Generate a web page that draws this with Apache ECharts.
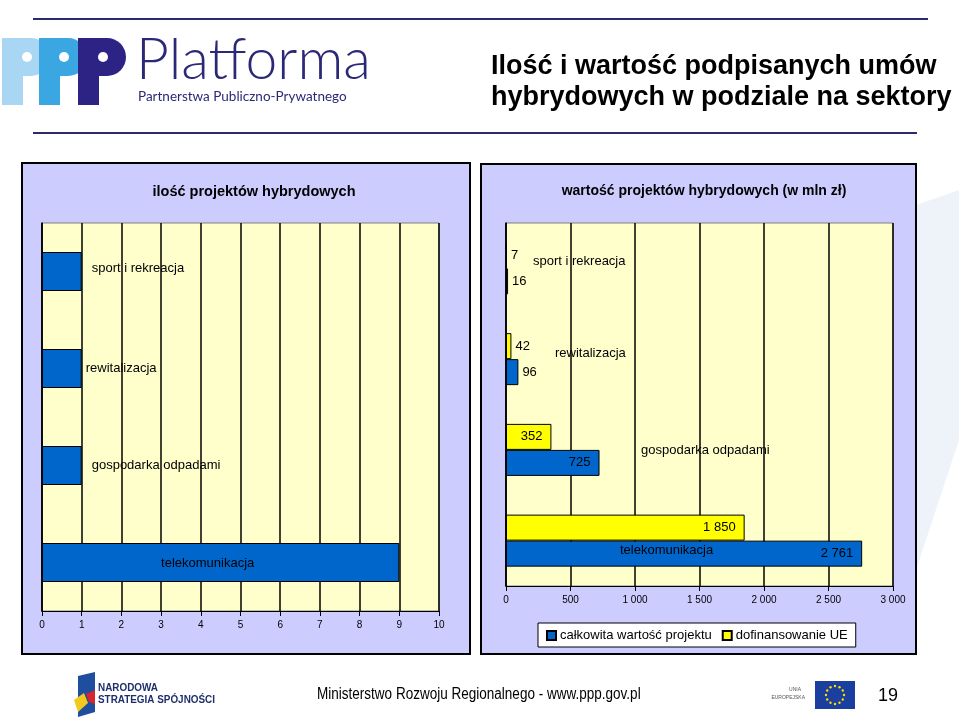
<!DOCTYPE html>
<html><head><meta charset="utf-8">
<script src="https://cdn.jsdelivr.net/npm/echarts@6/dist/echarts.min.js"></script>
<style>html,body{margin:0;padding:0;background:#fff}#c{width:959px;height:719px}</style>
</head><body><div id="c"></div>
<script>
// ---- data ----
const categories = ['sport i rekreacja', 'rewitalizacja', 'gospodarka odpadami', 'telekomunikacja'];
const projectCounts = [1, 1, 1, 9];
const totalValue = [16, 96, 725, 2761];
const euFunding = [7, 42, 352, 1850];
const countTicks = [0, 1, 2, 3, 4, 5, 6, 7, 8, 9, 10];
const valueTicks = [0, 500, 1000, 1500, 2000, 2500, 3000];
const seriesNames = ['całkowita wartość projektu', 'dofinansowanie UE'];
const panelTitles = ['ilość projektów hybrydowych', 'wartość projektów hybrydowych (w mln zł)'];
const mainTitle = ['Ilość i wartość podpisanych umów', 'hybrydowych w podziale na sektory'];

// ---- styling ----
const BLUE = '#0066CC', YELLOW = '#FFFF00', PLOT = '#FFFFCC', PANEL = '#CCCCFF';
const FONT = '"Liberation Sans", Arial, sans-serif';
const fmt = n => String(n).replace(/\B(?=(\d{3})+(?!\d))/g, ' ');

const leftLabelStyle = [
  { position: 'right', distance: 10, offset: [0, -3] },
  { position: 'right', distance: 4 },
  { position: 'right', distance: 10 },
  { position: 'inside', offset: [-13, 1] }
];
const rightNameOffset = [[27, -7], [49, -6], [135, 1], [114, 10]];
const valueLabelPos = v => v < 200 ? { position: 'right', distance: 4 } : { position: 'insideRight', distance: 9 };

const chart = echarts.init(document.getElementById('c'), null, { renderer: 'canvas' });

function euStars() {
  const els = [];
  for (let i = 0; i < 12; i++) {
    const a = i / 12 * Math.PI * 2;
    els.push({ type: 'circle', shape: { cx: 835 + Math.cos(a) * 9, cy: 695 + Math.sin(a) * 9, r: 1.2 }, style: { fill: '#FFDD00' } });
  }
  return els;
}

function pLogo(x, color) {
  return [
    { type: 'rect', shape: { x: x, y: 38, width: 21, height: 67 }, style: { fill: color } },
    { type: 'rect', shape: { x: x, y: 38, width: 48, height: 38, r: [0, 19, 19, 0] }, style: { fill: color } },
    { type: 'circle', shape: { cx: x + 25, cy: 57, r: 5 }, style: { fill: '#fff' } }
  ];
}

const graphics = [
  // faint background swoosh
  { type: 'polygon', shape: { points: [[916, 205], [959, 190], [959, 440], [916, 570]] }, style: { fill: '#EEF3FA' }, z: -2 },
  // panels
  { type: 'rect', shape: { x: 22, y: 163, width: 448, height: 491 }, style: { fill: PANEL, stroke: '#000', lineWidth: 2 }, z: -1 },
  { type: 'rect', shape: { x: 481, y: 164, width: 435, height: 490 }, style: { fill: PANEL, stroke: '#000', lineWidth: 2 }, z: -1 },
  // header lines
  { type: 'line', shape: { x1: 33, y1: 19, x2: 928, y2: 19 }, style: { stroke: '#2E2A6E', lineWidth: 2 } },
  { type: 'line', shape: { x1: 33, y1: 133, x2: 917, y2: 133 }, style: { stroke: '#2E2A6E', lineWidth: 2 } },
  ...pLogo(2, '#A9D6F2'), ...pLogo(39, '#3AA6E2'), ...pLogo(78, '#2C2385'),
  { type: 'text', x: 136, y: 61, style: { text: 'Platforma', font: '300 57px Lato, "Open Sans", sans-serif', fill: '#2C2878', textVerticalAlign: 'middle' } },
  { type: 'text', x: 138, y: 97, style: { text: 'Partnerstwa Publiczno-Prywatnego', font: '13.5px Lato, sans-serif', fill: '#2C2878', textVerticalAlign: 'middle' } },
  { type: 'text', x: 491, y: 67, style: { text: mainTitle[0], font: 'bold 27px ' + FONT, fill: '#000', textVerticalAlign: 'middle' } },
  { type: 'text', x: 491, y: 98, style: { text: mainTitle[1], font: 'bold 27px ' + FONT, fill: '#000', textVerticalAlign: 'middle' } },
  // footer
  { type: 'polygon', shape: { points: [[78, 676], [95, 672], [95, 712], [78, 717]] }, style: { fill: '#1F4E9E' } },
  { type: 'polygon', shape: { points: [[74, 700], [84, 693], [88, 703], [78, 712]] }, style: { fill: '#F3C91D' } },
  { type: 'polygon', shape: { points: [[86, 694], [95, 690], [95, 704], [89, 702]] }, style: { fill: '#D7262E' } },
  { type: 'text', x: 98, y: 688, scaleX: 0.9, style: { text: 'NARODOWA', font: 'bold 11px ' + FONT, fill: '#1F2F6E', textVerticalAlign: 'middle' } },
  { type: 'text', x: 98, y: 700, scaleX: 0.9, style: { text: 'STRATEGIA SPÓJNOŚCI', font: 'bold 11px ' + FONT, fill: '#1F2F6E', textVerticalAlign: 'middle' } },
  { type: 'text', x: 317, y: 695, scaleX: 0.845, style: { text: 'Ministerstwo Rozwoju Regionalnego - www.ppp.gov.pl', font: '16px ' + FONT, fill: '#000', textVerticalAlign: 'middle' } },
  { type: 'text', x: 801, y: 690, style: { text: 'UNIA', font: '5px ' + FONT, fill: '#555', textAlign: 'right', textVerticalAlign: 'middle' } },
  { type: 'text', x: 805, y: 698, style: { text: 'EUROPEJSKA', font: '5px ' + FONT, fill: '#555', textAlign: 'right', textVerticalAlign: 'middle' } },
  { type: 'rect', shape: { x: 815, y: 681, width: 40, height: 28 }, style: { fill: '#1B3F9E' } },
  ...euStars(),
  { type: 'text', x: 878, y: 696, style: { text: '19', font: '18px ' + FONT, fill: '#000', textVerticalAlign: 'middle' } }
];

const option = {
  animation: false,
  textStyle: { fontFamily: FONT },
  title: [
    { text: panelTitles[0], left: 249, top: 179, textAlign: 'center', textStyle: { fontSize: 14.5, fontWeight: 'bold', color: '#000', fontFamily: FONT } },
    { text: panelTitles[1], left: 699, top: 179, textAlign: 'center', textStyle: { fontSize: 14, fontWeight: 'bold', color: '#000', fontFamily: FONT } }
  ],
  legend: {
    data: seriesNames, left: 538, top: 623, orient: 'horizontal',
    backgroundColor: '#fff', borderColor: '#000', borderWidth: 1, padding: [6, 8, 5, 8],
    itemWidth: 9, itemHeight: 9, itemGap: 10, icon: 'rect',
    textStyle: { fontSize: 13, color: '#000', fontFamily: FONT, padding: [0, 0, 0, -1] }
  },
  grid: [
    { left: 42, top: 223, width: 397, height: 388, show: true, backgroundColor: PLOT, borderColor: '#808080', borderWidth: 1 },
    { left: 506, top: 223, width: 387, height: 363, show: true, backgroundColor: PLOT, borderColor: '#808080', borderWidth: 1 }
  ],
  xAxis: [
    {
      gridIndex: 0, type: 'value', min: countTicks[0], max: countTicks[countTicks.length - 1], interval: countTicks[1] - countTicks[0],
      axisLine: { show: true, lineStyle: { color: '#000', width: 1 } },
      axisTick: { show: true, length: 5, lineStyle: { color: '#000' } },
      axisLabel: { fontSize: 10, color: '#000', margin: 9 },
      splitLine: { show: true, lineStyle: { color: '#000', width: 1.5 } }
    },
    {
      gridIndex: 1, type: 'value', min: valueTicks[0], max: valueTicks[valueTicks.length - 1], interval: valueTicks[1] - valueTicks[0],
      axisLine: { show: true, lineStyle: { color: '#000', width: 1 } },
      axisTick: { show: true, length: 5, lineStyle: { color: '#000' } },
      axisLabel: { fontSize: 10, color: '#000', margin: 9, formatter: v => fmt(v) },
      splitLine: { show: true, lineStyle: { color: '#000', width: 1.5 } }
    }
  ],
  yAxis: [
    { gridIndex: 0, type: 'category', data: categories, inverse: true, axisLine: { show: true, lineStyle: { color: '#000', width: 1.5 } }, axisTick: { show: false }, axisLabel: { show: false } },
    { gridIndex: 1, type: 'category', data: categories, inverse: true, axisLine: { show: true, lineStyle: { color: '#000', width: 1.5 } }, axisTick: { show: false }, axisLabel: { show: false } }
  ],
  series: [
    {
      type: 'bar', xAxisIndex: 0, yAxisIndex: 0, barWidth: 39,
      itemStyle: { color: BLUE, borderColor: '#000', borderWidth: 1 },
      data: projectCounts.map((v, i) => ({
        value: v,
        label: Object.assign({ show: true, formatter: categories[i], fontSize: 13, color: '#000' }, leftLabelStyle[i])
      }))
    },
    {
      name: seriesNames[1], type: 'bar', xAxisIndex: 1, yAxisIndex: 1, barWidth: 26, barGap: '0%',
      itemStyle: { color: YELLOW, borderColor: '#000', borderWidth: 1 },
      data: euFunding.map(v => ({ value: v, label: Object.assign({ show: true, formatter: fmt(v), fontSize: 13, color: '#000' }, valueLabelPos(v)) }))
    },
    {
      name: seriesNames[0], type: 'bar', xAxisIndex: 1, yAxisIndex: 1, barWidth: 26, barGap: '0%',
      itemStyle: { color: BLUE, borderColor: '#000', borderWidth: 1 },
      data: totalValue.map(v => ({ value: v, label: Object.assign({ show: true, formatter: fmt(v), fontSize: 13, color: '#000' }, valueLabelPos(v)) }))
    },
    {
      type: 'scatter', xAxisIndex: 1, yAxisIndex: 1, symbolSize: 0, silent: true, z: 5,
      itemStyle: { opacity: 1 },
      data: categories.map((c, i) => ({
        value: [valueTicks[0], c],
        label: { show: true, formatter: c, position: 'right', distance: 0, offset: rightNameOffset[i], fontSize: 13, color: '#000', opacity: 1 }
      }))
    }
  ],
  graphic: { elements: graphics }
};
chart.setOption(option);
</script>
</body></html>
